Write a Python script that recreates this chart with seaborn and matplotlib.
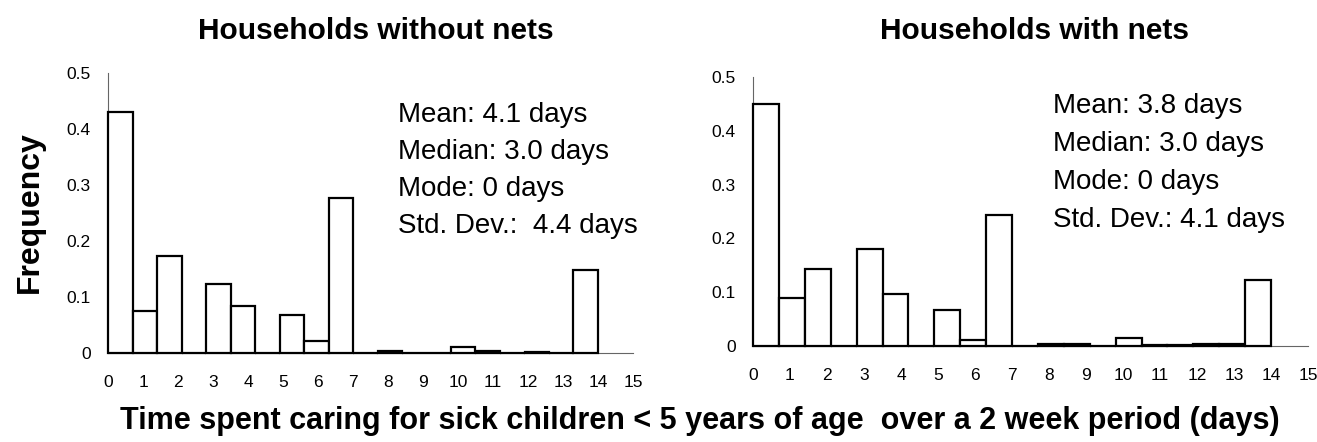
import numpy as np
import matplotlib
matplotlib.use("Agg")
import matplotlib.pyplot as plt
import seaborn as sns

# bins of 0.7 day (20 bins over 0-14 days)
bin_start = [0.0, 0.7, 1.4, 2.1, 2.8, 3.5, 4.2, 4.9, 5.6, 6.3,
             7.0, 7.7, 8.4, 9.1, 9.8, 10.5, 11.2, 11.9, 12.6, 13.3]
bin_width = 0.7

freq_without = [0.431, 0.075, 0.174, 0.0, 0.123, 0.084, 0.0, 0.068, 0.021, 0.277,
                0.0, 0.004, 0.0, 0.0, 0.011, 0.003, 0.0, 0.002, 0.0, 0.148]
freq_with = [0.45, 0.09, 0.143, 0.0, 0.18, 0.097, 0.0, 0.067, 0.012, 0.243,
             0.0, 0.003, 0.003, 0.0, 0.015, 0.002, 0.002, 0.004, 0.004, 0.123]

stats_without = ["Mean: 4.1 days", "Median: 3.0 days", "Mode: 0 days", "Std. Dev.:  4.4 days"]
stats_with = ["Mean: 3.8 days", "Median: 3.0 days", "Mode: 0 days", "Std. Dev.: 4.1 days"]

titles = ["Households without nets", "Households with nets"]
xticks = list(range(0, 16))
yticks = [0, 0.1, 0.2, 0.3, 0.4, 0.5]
ytick_labels = ["0", "0.1", "0.2", "0.3", "0.4", "0.5"]

sns.set_style("white")
plt.rcParams['font.family'] = ['Liberation Sans', 'DejaVu Sans']
plt.rcParams['text.color'] = 'black'

W, H = 1317, 442
fig = plt.figure(figsize=(W / 100, H / 100), dpi=100)
ax1 = fig.add_axes([108 / W, (H - 353) / H, 525 / W, 280 / H])
ax2 = fig.add_axes([753 / W, (H - 346) / H, 555 / W, 269 / H])

narrow = ['Liberation Sans Narrow', 'Liberation Sans']

panels = [
    (ax1, freq_without, stats_without, titles[0], 8.3, 0.425, 0.066, 376),
    (ax2, freq_with, stats_with, titles[1], 8.1, 0.446, 0.0705, 1034),
]
for ax, freq, stats, title, tx, ty, dy, title_x in panels:
    centers = np.array(bin_start) + bin_width / 2
    sns.histplot(x=centers, weights=freq, binwidth=bin_width, binrange=(0, 14),
                 ax=ax, color="white", edgecolor="black", linewidth=1.6, alpha=1)
    for p in ax.patches:
        p.set_clip_on(False)
        p.set_zorder(3)
    ax.set_xlim(0, 15)
    ax.set_ylim(0, 0.5)
    ax.set_xticks(xticks)
    ax.set_xticklabels([str(t) for t in xticks], family=narrow, fontsize=12.5)
    ax.set_yticks(yticks)
    ax.set_yticklabels(ytick_labels, family=narrow, fontsize=12.5)
    ax.set_xlabel("")
    ax.set_ylabel("")
    for s in ["top", "right"]:
        ax.spines[s].set_visible(False)
    for s in ["left", "bottom"]:
        ax.spines[s].set_color("#666666")
        ax.spines[s].set_linewidth(0.8)
    ax.tick_params(axis="both", direction="inout", length=9, width=0.8,
                   color="#666666", labelcolor="black")
    ax.tick_params(axis="x", pad=11)
    ax.tick_params(axis="y", pad=8)
    fig.text(title_x / W, (H - 31) / H, title, fontsize=21.5, fontweight="bold",
             ha="center", va="center", color="black")
    for i, line in enumerate(stats):
        ax.text(tx, ty - i * dy, line, fontsize=20, va="center", ha="left", color="black")

fig.text(30 / W, (H - 212) / H, "Frequency", rotation=90, fontsize=23,
         fontweight="bold", va="center", ha="center", color="black")
fig.text(700 / W, (H - 421) / H,
         "Time spent caring for sick children < 5 years of age  over a 2 week period (days)",
         fontsize=22, fontweight="bold", ha="center", va="center", color="black")

fig.savefig("out.png", dpi=100)
